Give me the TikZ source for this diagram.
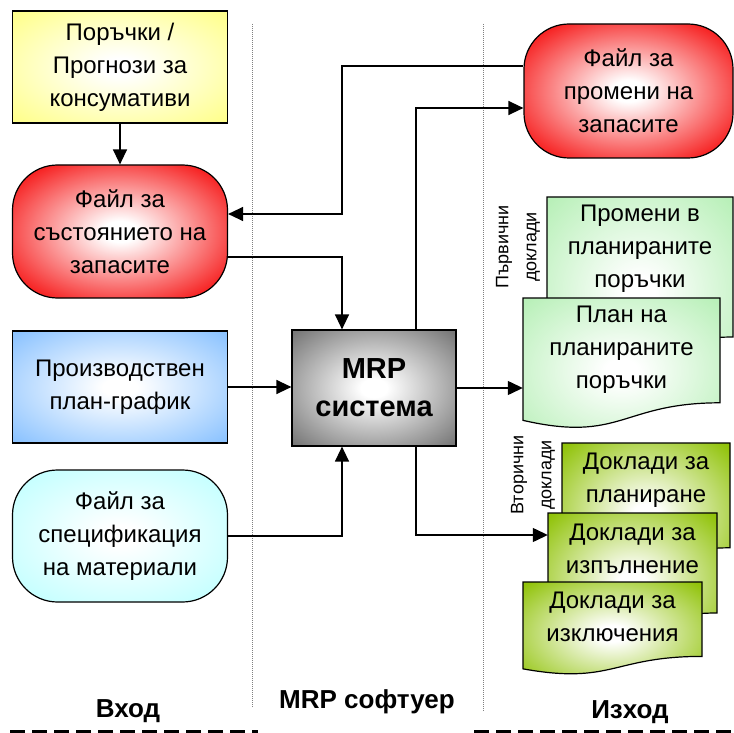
\documentclass[tikz,border=0pt]{standalone}
\usepackage{fontspec}
\setmainfont{Liberation Sans}
\usepackage{xcolor}
\usetikzlibrary{arrows.meta}

\definecolor{ordyellow}{RGB}{255,255,140}
\definecolor{stockred}{RGB}{245,0,0}
\definecolor{schedblue}{RGB}{140,195,255}
\definecolor{speccyan}{RGB}{190,255,255}
\definecolor{mrpgray}{RGB}{120,120,120}
\definecolor{docgreen}{RGB}{185,240,185}
\definecolor{rptgreen}{RGB}{145,195,10}

% white centre, coloured edge
\pgfdeclareradialshading[glowin,glowout]{glow}{\pgfpoint{0bp}{0bp}}{color(0bp)=(glowin); color(4bp)=(glowin); color(34bp)=(glowout); color(50bp)=(glowout)}
\tikzset{glow/.code={\colorlet{glowin}{white}\colorlet{glowout}{#1}\tikzset{shading=glow}}}

% document sheet: left, right, top, height
\newcommand{\docsheet}[4]{(#1,-#3) -- (#2,-#3) -- (#2,{-#3-0.8*#4}) .. controls ({(#1+#2)/2},{-#3-0.8*#4}) and ({(#1+#2)/2},{-#3-1.107*#4}) .. (#1,{-#3-0.934*#4}) -- cycle}

\begin{document}
\begin{tikzpicture}[x=1pt,y=1pt]
				\tikzstyle{every node}+=[inner sep=0pt, align=center, font=\fontsize{24}{33}\selectfont]
				\tikzstyle{box}=[draw, line width=1.2pt, minimum width=215pt, minimum height=112pt]
				\tikzstyle{roundbox}=[box, rounded corners=45pt, minimum height=133pt]
				\tikzstyle{sheet}=[draw, line width=1.2pt]
				\tikzstyle{conn}=[line width=1.3pt, -{Triangle[length=15pt,width=14pt]}]
				\tikzstyle{lane}=[gray, densely dotted, line width=1pt]
				\tikzstyle{caption}=[font=\fontsize{26}{30}\bfseries]
				\useasboundingbox (0,0) rectangle (734,-733);
				% lanes
				\draw [lane] (252,-24) -- (252,-708);
				\draw [lane] (483,-24) -- (483,-712);
				% input
				\node [box, glow=ordyellow] (orders) at (120,-67) {Поръчки /\\Прогнози за\\консумативи};
				\node [roundbox, glow=stockred] (stock) at (120,-231.5) {Файл за\\състоянието на\\запасите};
				\node [box, glow=schedblue] (sched) at (120,-387) {Производствен\\план-график};
				\node [roundbox, glow=speccyan, minimum height=132pt] (spec) at (120,-536) {Файл за\\спецификация\\на материали};
				% software
				\node [box, glow=mrpgray, minimum width=164pt, minimum height=116pt, font=\fontsize{29}{38}\bfseries] (mrp) at (374,-388) {MRP\\система};
				% output
				\node [roundbox, glow=stockred, minimum width=209pt, minimum height=134pt] (stockchg) at (628.5,-91) {Файл за\\промени на\\запасите};
				\path [sheet, glow=docgreen] \docsheet{547}{733}{197}{175};
				\path [sheet, glow=docgreen] \docsheet{523}{720}{298}{131};
				\path [sheet, glow=rptgreen] \docsheet{562}{730}{443}{131};
				\path [sheet, glow=rptgreen] \docsheet{548}{717}{513}{125};
				\path [sheet, glow=rptgreen] \docsheet{523}{702}{582}{93};
				\node [minimum width=186pt, minimum height=104pt] (plchg) at (640,-249) {Промени в\\планираните\\поръчки};
				\node [minimum width=197pt, minimum height=104pt] (plan) at (621.5,-350) {План на\\планираните\\поръчки};
				\node [minimum width=168pt, minimum height=70pt] (rplan) at (646,-480) {Доклади за\\планиране};
				\node [minimum width=169pt, minimum height=70pt] (rexec) at (632.5,-549) {Доклади за\\изпълнение};
				\node [minimum width=179pt, minimum height=70pt] (rexcp) at (612.5,-617) {Доклади за\\изключения};
				\node [rotate=90, font=\fontsize{18}{28}\selectfont] (prim) at (518,-247) {Първични\\доклади};
				\node [rotate=90, font=\fontsize{18}{28}\selectfont] (sec) at (533,-475) {Вторични\\доклади};
				% connectors
				\draw [conn] (orders.south) -- (stock.north);
				\draw [conn] ([yshift=25pt]stockchg.west) -| (342,-214) -- ([yshift=17.5pt]stock.east);
				\draw [conn] ([yshift=-25.5pt]stock.east) -| ([xshift=-32pt]mrp.north);
				\draw [conn] (sched.east) -- (sched.east -| mrp.west);
				\draw [conn] (spec.east) -| ([xshift=-32pt]mrp.south);
				\draw [conn] ([xshift=42pt]mrp.north) |- ([yshift=-17pt]stockchg.west);
				\draw [conn] (mrp.east) -- (mrp.east -| plan.west);
				\draw [conn] ([xshift=42pt]mrp.south) |- ([yshift=14pt]rexec.west);
				% captions
				\node [caption] (inlbl) at (128,-711) {Вход};
				\node [caption] (swlbl) at (367,-702) {MRP софтуер};
				\node [caption] (outlbl) at (630,-712) {Изход};
				\draw [line width=3pt, dash pattern=on 15pt off 7pt] (10,-731) -- (258,-731);
				\draw [line width=3pt, dash pattern=on 15pt off 7pt] (474,-731) -- (734,-731);
				\end{tikzpicture}
\end{document}
